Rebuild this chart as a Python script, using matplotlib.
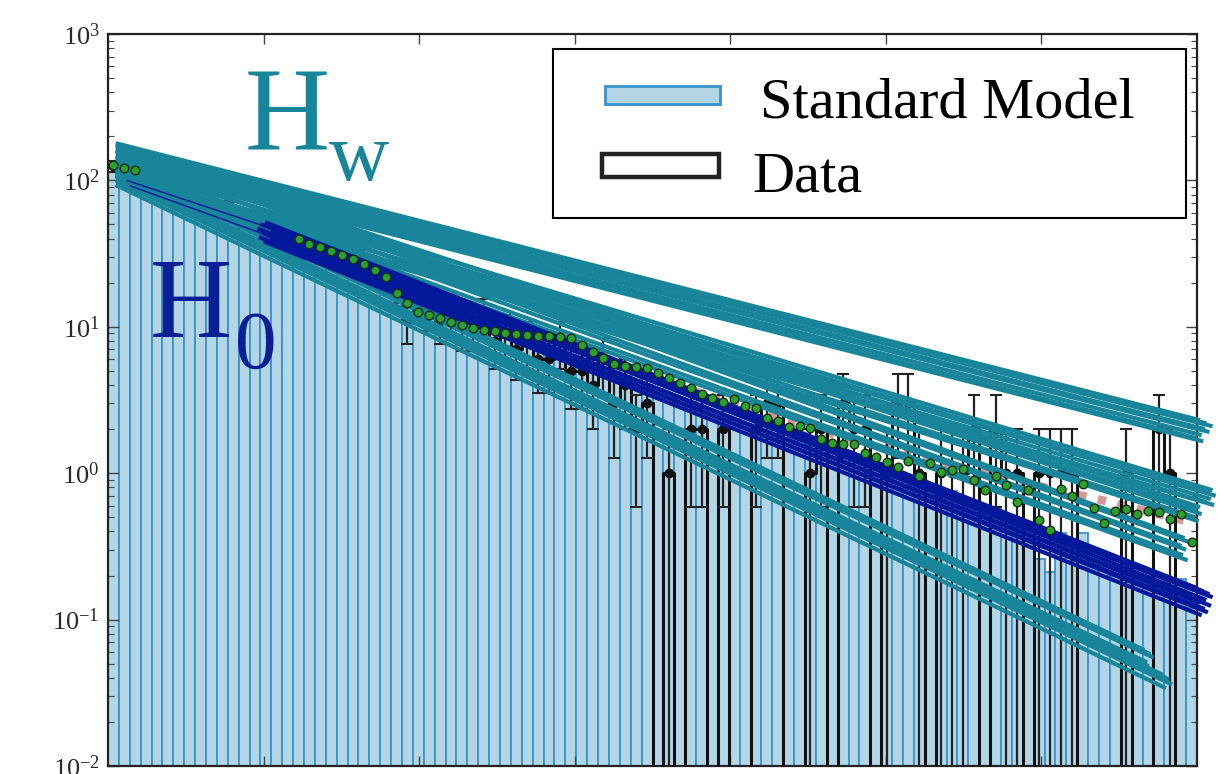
import numpy as np
import matplotlib
matplotlib.use('Agg')
import matplotlib.pyplot as plt
from matplotlib.patches import Rectangle

plt.rcParams['font.family'] = ['Liberation Serif', 'DejaVu Serif']
plt.rcParams['mathtext.fontset'] = 'custom'
plt.rcParams['mathtext.rm'] = 'Liberation Serif'

# ---------------- data ----------------
x_lo, x_hi = 0.0, 7.0
bin_width = 0.07

sm_counts = [114, 108, 100, 93, 87, 81, 76, 71, 66, 62,
             57.5, 54, 50, 47, 44, 41, 38, 35.5, 33.5, 31,
             29, 27, 25.3, 23.7, 22, 20.6, 19.3, 18, 16.8, 15.7,
             14.7, 13.7, 12.8, 11.9, 11.1, 10.4, 9.7, 9.1, 8.5, 7.9,
             7.4, 6.9, 6.45, 6.0, 5.6, 5.25, 4.9, 4.6, 4.3, 4.0,
             3.75, 3.5, 3.27, 3.05, 2.85, 2.66, 2.5, 2.33, 2.18, 2.05,
             1.95, 1.85, 1.75, 1.65, 1.55, 1.45, 1.38, 1.3, 1.22, 1.15,
             1.13, 1.1, 0.95, 0.83, 0.8, 0.75, 0.7, 0.75, 0.67, 0.62,
             0.53, 0.57, 0.48, 0.42, 0.36, 0.26, 0.21, 0.39, 0.25, 0.39,
             0.25, 0.2, 0.2, 0.23, 0.2, 0.2, 0.2, 0.18, 0.19, 0.12]

data_counts = [125, 118, 121, 106, 98, 97, 85, 80, 79, 70,
               64, 63, 55, 52, 51, 44, 42, 41, 36, 35,
               32, 31, 28, 28, 24, 22, 19, 11, 15, 13,
               11, 12, 10, 10, 12, 8, 9, 7, 8, 6,
               6, 8, 5, 5, 4, 6, 3, 4, 2, 3,
               0, 1, 0, 2, 2, 0, 2, 0, 0, 2,
               3, 3, 0, 0, 1, 2, 0, 3, 2, 2,
               0, 1, 3, 3, 1, 0, 1, 1, 1, 2,
               0, 2, 1, 1, 0, 1, 1, 1, 1, 0,
               0, 0, 0, 1, 0, 0, 2, 1, 0, 0]

nan = float('nan')
fit_values = [128, 121, 117, nan, nan, nan, nan, nan, nan, nan,
              nan, nan, nan, nan, nan, nan, nan, 40, 37, 35,
              33, 31, 29, 27, 24.4, 22, 17, 14.5, 12.6, 12,
              11.4, 10.8, 10.3, 9.8, 9.5, 9.3, 9.1, 8.9, 8.8, 8.7,
              8.6, 8.5, 8.4, 7.5, 6.7, 6.1, 5.6, 5.4, 5.3, 5.2,
              4.8, 4.5, 4.1, 3.8, 3.5, 3.25, 3.05, 3.2, 2.87, 2.78,
              2.4, 2.27, 2.06, 2.1, 2.03, 1.71, 1.6, 1.58, 1.58, 1.37,
              1.3, 1.2, 1.1, 1.21, 0.95, 1.17, 1.02, 1.05, 1.06, 0.9,
              0.77, 0.95, 0.83, 0.64, 0.77, 0.48, 0.41, 0.78, 0.7, 0.84,
              0.58, 0.46, 0.55, 0.57, 0.53, 0.55, 0.54, 0.49, 0.53, 0.34]

ref_x = [0.05, 0.6, 1.25, 1.9, 2.5, 3.15, 3.8, 4.45, 5.1, 5.75, 6.4, 6.97]
ref_y = [132, 78, 42, 22.4, 11.9, 6.5, 3.55, 2.14, 1.38, 0.93, 0.65, 0.46]

# H_w bundles: start value (at hw_x0), end x and end value of each line
hw_x0 = 0.05
hw1_v0 = [179.5, 171, 163, 156, 149, 142, 136, 130]
hw1_x1 = [7.02, 7.06, 7.10, 7.05, 7.08, 7.03, 7.00, 7.04]
hw1_v1 = [2.30, 2.19, 2.09, 2.00, 1.91, 1.82, 1.73, 1.65]

hw2_v0 = [137, 127, 117, 109, 100, 93]
hw2_x1 = [7.10, 7.08, 7.12, 7.09, 7.06, 7.11]
hw2_v1 = [0.765, 0.73, 0.70, 0.665, 0.634, 0.605]

hw3_v0 = [161, 147, 134, 121, 110]
hw3_x1 = [7.02, 7.00, 7.03, 6.99, 7.01]
hw3_v1 = [0.586, 0.56, 0.525, 0.50, 0.47]

hw4_v0 = [174, 159, 145, 131, 119, 109]
hw4_x1 = [6.92, 6.95, 6.90, 6.93, 6.91, 6.94]
hw4_v1 = [0.36, 0.338, 0.318, 0.30, 0.275, 0.254]

hw5_v0 = [137, 130, 121, 113, 107]
hw5_x1 = [6.66, 6.70, 6.72, 6.68, 6.69]
hw5_v1 = [0.062, 0.058, 0.055, 0.051, 0.048]

hw6_v0 = [113, 107, 100, 93]
hw6_x1 = [6.78, 6.82, 6.84, 6.80]
hw6_v1 = [0.042, 0.039, 0.036, 0.034]

# H_0 bundle: main lines start further right, two faint lines from the left edge
h0_x0 = [1.01, 0.98, 1.03, 0.96, 1.05, 0.99, 1.02, 0.97, 1.04, 1.00]
h0_v0 = [51.8, 50.2, 48.7, 46.9, 45.3, 43.8, 42.4, 41.0, 39.7, 38.4]
h0_x1 = [7.00, 7.04, 7.08, 7.10, 7.06, 7.02, 7.09, 7.05, 7.07, 7.03]
h0_v1 = [0.164, 0.156, 0.149, 0.142, 0.136, 0.13, 0.124, 0.118, 0.112, 0.107]
h0_thin_x0 = [0.12, 0.14]
h0_thin_v0 = [100, 92]
h0_thin_x1 = [1.0, 1.0]
h0_thin_v1 = [49, 43]

legend_labels = ['Standard Model', 'Data']

# ---------------- plot ----------------
teal = '#18859A'
dblue = '#03189A'
sm_face = '#b3d5e6'
sm_edge = '#3a93cc'

W, H = 1220, 774
fig = plt.figure(figsize=(W/100, H/100), dpi=100)
ax = fig.add_axes([108/W, 8/H, 1089/W, 732/H])

edges = x_lo + bin_width*np.arange(len(sm_counts)+1)
centers = edges[:-1] + bin_width/2
sm = np.array(sm_counts, float)
dat = np.array(data_counts, float)
fit = np.array(fit_values, float)

ax.set_yscale('log', nonpositive='clip')
ax.bar(centers, sm, width=bin_width, facecolor=sm_face, edgecolor=sm_edge,
       linewidth=1.3, zorder=1)

ax.plot(ref_x, ref_y, color='#c96a6a', alpha=0.7, lw=6, linestyle=(0, (1.0, 1.4)),
        zorder=2)

ax.step(edges, np.append(dat, dat[-1]), where='post', color='#111111', lw=2.2,
        zorder=3)
m = dat > 0
ax.errorbar(centers[m], dat[m], yerr=np.sqrt(dat[m]), fmt='o', color='#111111',
            ms=6, elinewidth=1.6, capsize=4, capthick=1.5, ecolor='#222222', zorder=3)

def segs(x0s, v0s, x1s, v1s, color, lw, z):
    for x0, a, x1, b in zip(x0s, v0s, x1s, v1s):
        ax.plot([x0, x1], [a, b], color=color, lw=lw, clip_on=False,
                solid_capstyle='butt', zorder=z)

for v0s, x1s, v1s in [(hw1_v0, hw1_x1, hw1_v1), (hw2_v0, hw2_x1, hw2_v1),
                      (hw3_v0, hw3_x1, hw3_v1), (hw4_v0, hw4_x1, hw4_v1),
                      (hw5_v0, hw5_x1, hw5_v1), (hw6_v0, hw6_x1, hw6_v1)]:
    segs([hw_x0]*len(v0s), v0s, x1s, v1s, teal, 3.0, 4)
segs(h0_x0, h0_v0, h0_x1, h0_v1, dblue, 3.0, 5)
segs(h0_thin_x0, h0_thin_v0, h0_thin_x1, h0_thin_v1, dblue, 1.0, 5)

ax.plot(centers, fit, 'o', ms=6.2, mfc='#2ca02c', mec='#163016', mew=1.0, zorder=6)

ax.set_xlim(x_lo, x_hi)
ax.set_ylim(1e-2, 1e3)
ax.set_xticks([1, 2, 3, 4, 5, 6])
ax.tick_params(axis='x', which='both', direction='in', top=True, bottom=True,
               labelbottom=False, length=7, width=1, color='#444444')
ax.tick_params(axis='y', which='major', direction='in', left=True, right=True,
               length=8, width=1, labelsize=19, pad=6, color='#444444',
               labelcolor='#2a2a2a')
ax.tick_params(axis='y', which='minor', direction='in', left=True, right=True,
               length=4, width=0.8, color='#444444')
for s in ax.spines.values():
    s.set_linewidth(1.6)
    s.set_color('#222222')

# legend (drawn as frame, patches and texts in pixel positions)
def px(x, y):
    return (x - 108) / 1089, (766 - y) / 732

fx, fy = px(553, 218)
ax.add_patch(Rectangle((fx, fy), (1186-553)/1089, (218-49)/732, transform=ax.transAxes,
                       facecolor='white', edgecolor='black', lw=1.5, zorder=10,
                       clip_on=False))
hx, hy = px(605, 104)
ax.add_patch(Rectangle((hx, hy), 115/1089, 18/732, transform=ax.transAxes,
                       facecolor=sm_face, edgecolor=sm_edge, lw=2, zorder=11))
hx, hy = px(602, 177)
ax.add_patch(Rectangle((hx, hy), 117/1089, 23/732, transform=ax.transAxes,
                       facecolor='white', edgecolor='#222222', lw=3.2, zorder=11))
tx, ty = px(760, 117)
ax.text(tx, ty, legend_labels[0], transform=ax.transAxes, fontsize=42,
        ha='left', va='baseline', zorder=12)
tx, ty = px(752, 192)
ax.text(tx, ty, legend_labels[1], transform=ax.transAxes, fontsize=42,
        ha='left', va='baseline', zorder=12)

fig.text(245/W, 1-150/H, 'H', fontsize=85, color=teal, ha='left', va='baseline')
fig.text(329/W, 1-180/H, 'w', fontsize=60, color=teal, ha='left', va='baseline')
fig.text(150/W, 1-337/H, 'H', fontsize=82, color='#0A1E96', ha='left', va='baseline')
fig.text(235/W, 1-368/H, '0', fontsize=60, color='#0A1E96', ha='left', va='baseline')

fig.savefig('out.png', dpi=100)
